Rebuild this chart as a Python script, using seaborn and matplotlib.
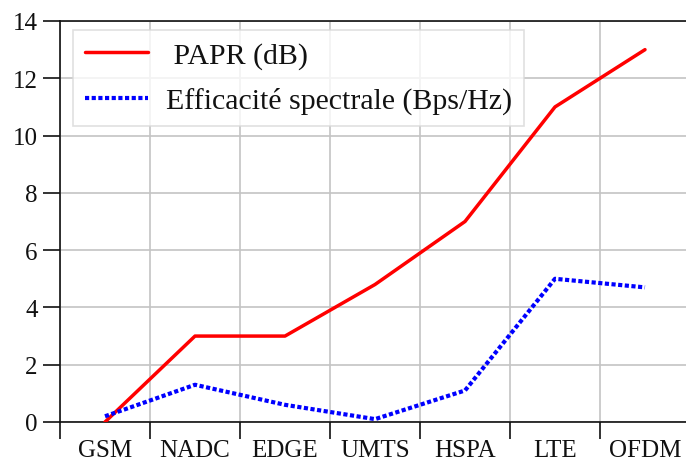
import numpy as np
import pandas as pd
import matplotlib
matplotlib.use("Agg")
import matplotlib.pyplot as plt
from matplotlib.ticker import FixedLocator
import seaborn as sns

categories = ["GSM", "NADC", "EDGE", "UMTS", "HSPA", "LTE", "OFDM"]
papr = [0.0, 3.0, 3.0, 4.8, 7.0, 11.0, 13.0]
efficacite = [0.2, 1.3, 0.6, 0.1, 1.1, 5.0, 4.7]
yticks = [0, 2, 4, 6, 8, 10, 12, 14]


def main():
    sns.set_style("white")
    plt.rcParams['font.family'] = ["Liberation Serif", "DejaVu Serif"]
    plt.rcParams['font.size'] = 18
    almost_black = '#111111'
    plt.rcParams['text.color'] = almost_black
    plt.rcParams['xtick.color'] = almost_black
    plt.rcParams['ytick.color'] = almost_black

    df = pd.DataFrame({"cat": categories, "papr": papr, "eff": efficacite})

    fig = plt.figure(figsize=(6.86, 4.64), dpi=100)
    ax = fig.add_axes([60 / 686, 1 - 423 / 464, 1 - 60 / 686, (423 - 22) / 464])

    sns.lineplot(x="cat", y="papr", data=df, ax=ax, sort=False,
                 color="#ff0000", lw=2.5, label=" PAPR (dB)", zorder=3)
    sns.lineplot(x="cat", y="eff", data=df, ax=ax, sort=False,
                 color="#0000ff", lw=3.0, ls=(0, (1, 0.6)),
                 label="Efficacité spectrale (Bps/Hz)", zorder=3)

    ax.set_xlim(-0.5, 6.5 - 4 / 90)
    ax.set_ylim(0, 14)
    ax.set_yticks(yticks)
    ax.set_xticks(range(len(categories)))
    ax.set_xticklabels(categories)
    ax.xaxis.set_minor_locator(FixedLocator(np.arange(-0.5, 7.0, 1.0)))
    ax.tick_params(axis="x", which="major", length=0, pad=12, labelsize=18)
    ax.tick_params(axis="x", which="minor", length=12.5, width=1.2,
                   direction="out", bottom=True)
    ax.tick_params(axis="y", length=12, width=1.2, direction="out",
                   left=True, pad=4, labelsize=18)

    ax.grid(False)
    ax.grid(axis="x", which="minor", color="#c4c4c4", lw=1.2, zorder=0)
    ax.grid(axis="y", which="major", color="#c4c4c4", lw=1.2, zorder=0)

    for side in ["left", "bottom", "top"]:
        ax.spines[side].set_visible(True)
        ax.spines[side].set_color(almost_black)
        ax.spines[side].set_linewidth(1.2)
    ax.spines["right"].set_visible(False)

    ax.set_xlabel("")
    ax.set_ylabel("")

    leg = ax.legend(loc="upper left", bbox_to_anchor=(13 / 626, 1 - 9 / 401),
                    fontsize=21.5, frameon=True, fancybox=False,
                    handlelength=2.1, borderpad=0.4, labelspacing=0.6,
                    handletextpad=0.6, borderaxespad=0)
    leg.get_frame().set_edgecolor("#d8d8d8")
    leg.get_frame().set_linewidth(1.2)

    fig.savefig("out.png", dpi=100)


if __name__ == "__main__":
    main()
